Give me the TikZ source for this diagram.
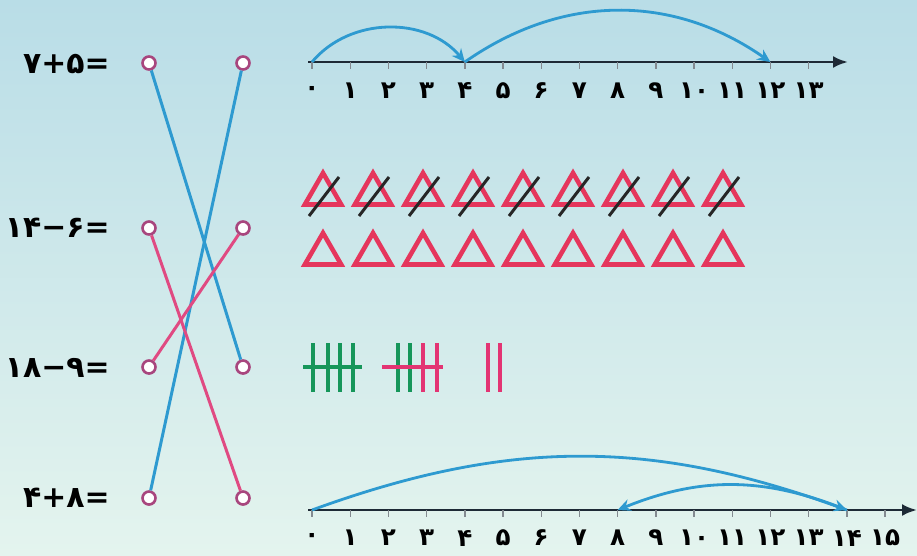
\documentclass[tikz,border=0pt]{standalone}
\usepackage{fontspec}
\usepackage{tikz}
\usetikzlibrary{arrows.meta,shapes.geometric}
\newfontfamily\persianfont{DejaVu Sans}
\definecolor{bgtop}{HTML}{B9DDE7}
\definecolor{bgbottom}{HTML}{E4F4EE}
\definecolor{lineblue}{HTML}{2E9AD0}
\definecolor{linepink}{HTML}{E04A82}
\definecolor{dotpurple}{HTML}{A8467E}
\definecolor{trired}{HTML}{E5365C}
\definecolor{tallygreen}{HTML}{16965A}
\definecolor{tallypink}{HTML}{E33473}
\definecolor{axisnavy}{HTML}{1E2A36}

\begin{document}
\begin{tikzpicture}[
  sum/.style={anchor=east,font=\persianfont\bfseries\fontsize{17}{20}\selectfont,inner sep=0pt},
  dot/.style={circle,draw=dotpurple,fill=white,line width=1.5pt,minimum size=0.26cm,inner sep=0pt},
  blueline/.style={draw=lineblue,line width=1.7pt},
  pinkline/.style={draw=linepink,line width=1.7pt},
  axis/.style={-{Latex[length=3mm,width=2.4mm]},draw=axisnavy,line width=1.6pt},
  tickmark/.style={draw=axisnavy!55,line width=0.8pt},
  num/.style={font=\persianfont\bfseries\fontsize{14}{16}\selectfont,inner sep=0pt},
  jump/.style={-{Stealth[length=2.6mm,width=2.4mm]},draw=lineblue,line width=1.6pt},
  tri/.style={regular polygon,regular polygon sides=3,draw=trired,line width=2.6pt,minimum size=0.84cm,inner sep=0pt},
  slash/.style={draw=black!85,line width=1.7pt},
  tally/.style={line width=2.3pt}
]
\fill[top color=bgtop,bottom color=bgbottom] (0,0) rectangle (18.34,11.1);
\useasboundingbox (0,0) rectangle (18.34,11.1);

\node[sum] (q1) at (2.2,9.82) {۷+۵=};
\node[sum] (q2) at (2.2,6.54) {۱۴−۶=};
\node[sum] (q3) at (2.2,3.74) {۱۸−۹=};
\node[sum] (q4) at (2.2,1.14) {۴+۸=};

\node[dot] (l1) at (2.98,9.84) {};
\node[dot] (l2) at (2.98,6.54) {};
\node[dot] (l3) at (2.98,3.76) {};
\node[dot] (l4) at (2.98,1.14) {};
\node[dot] (r1) at (4.86,9.84) {};
\node[dot] (r2) at (4.86,6.54) {};
\node[dot] (r3) at (4.86,3.76) {};
\node[dot] (r4) at (4.86,1.14) {};

\draw[blueline] (l1) -- (r3);
\draw[blueline] (r1) -- (l4);
\draw[pinkline] (l2) -- (r4);
\draw[pinkline] (l3) -- (r2);

\coordinate (top0) at (6.16,9.86);
\coordinate (topend) at (16.96,9.86);
\draw[axis] (top0) -- (topend);
\foreach \n/\lab in {0/۰,1/۱,2/۲,3/۳,4/۴,5/۵,6/۶,7/۷,8/۸,9/۹,10/۱۰,11/۱۱,12/۱۲,13/۱۳} {
  \coordinate (p\n) at ({6.24+0.764*\n},9.86);
  \draw[tickmark] (p\n) -- ++(0,-0.13);
  \node[num] (u\n) at ({6.24+0.764*\n},9.28) {\lab};
}
\draw[jump] (p0) to[bend left=50] (p4);
\draw[jump] (p4) to[bend left=35] (p12);

\coordinate (bot0) at (6.16,0.9);
\coordinate (botend) at (18.34,0.9);
\draw[axis] (bot0) -- (botend);
\foreach \n/\lab in {0/۰,1/۱,2/۲,3/۳,4/۴,5/۵,6/۶,7/۷,8/۸,9/۹,10/۱۰,11/۱۱,12/۱۲,13/۱۳,14/۱۴,15/۱۵} {
  \coordinate (b\n) at ({6.24+0.764*\n},0.9);
  \draw[tickmark] (b\n) -- ++(0,-0.13);
  \node[num] (v\n) at ({6.24+0.764*\n},0.34) {\lab};
}
\draw[jump] (b0) to[bend left=20] (b14);
\draw[jump] (b14) to[bend right=22] (b8);

\foreach \k in {0,...,8} {
  \node[tri] (c\k) at ({6.46+\k},7.22) {};
  \draw[slash] ([shift={(-0.28,-0.44)}]c\k.center) -- ([shift={(0.32,0.34)}]c\k.center);
  \node[tri] (d\k) at ({6.46+\k},6.02) {};
}

\foreach \x in {6.26,6.56,6.8,7.06}
  \draw[tally,draw=tallygreen] (\x,4.24) -- (\x,3.26);
\draw[tally,draw=tallygreen] (6.06,3.76) -- (7.24,3.76);
\foreach \x in {7.96,8.2}
  \draw[tally,draw=tallygreen] (\x,4.24) -- (\x,3.26);
\foreach \x in {8.46,8.74}
  \draw[tally,draw=tallypink] (\x,4.24) -- (\x,3.26);
\draw[tally,draw=tallypink] (7.64,3.76) -- (8.86,3.76);
\foreach \x in {9.76,10.0}
  \draw[tally,draw=tallypink] (\x,4.24) -- (\x,3.26);
\end{tikzpicture}
\end{document}
